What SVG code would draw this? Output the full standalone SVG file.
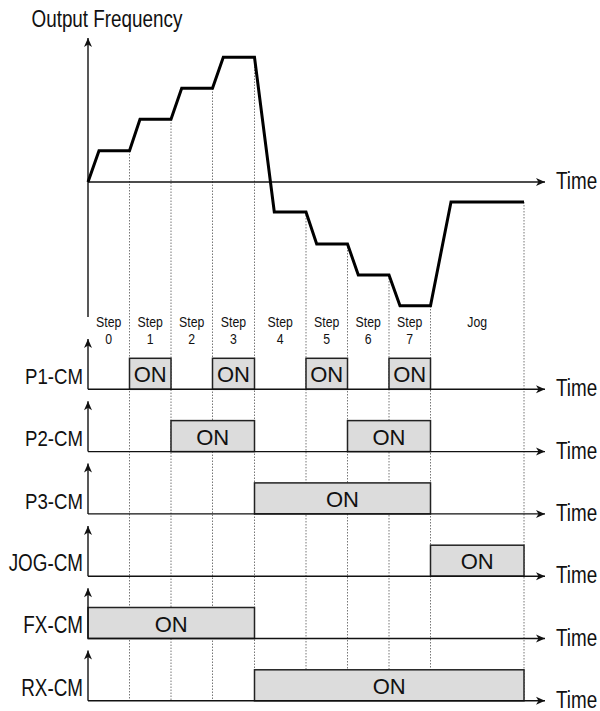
<svg xmlns="http://www.w3.org/2000/svg" width="600" height="711" viewBox="0 0 600 711">
<style>
.lbl{font-family:"Liberation Sans",Arial,sans-serif;font-size:23px;fill:#111}
.end{text-anchor:end}
.stp{font-family:"Liberation Sans",Arial,sans-serif;font-size:15px;fill:#111;text-anchor:middle}
.on{font-family:"Liberation Sans",Arial,sans-serif;font-size:22px;fill:#111;text-anchor:middle}
.ax{stroke:#111;stroke-width:1.4;fill:none}
.dot{stroke:#777;stroke-width:1;stroke-dasharray:1.5 1.5;fill:none}
.box{fill:#dcdcdc;stroke:#222;stroke-width:1.5}
.curve{stroke:#000;stroke-width:3;fill:none;stroke-linejoin:miter}
</style>
<defs>
<marker id="arr" markerUnits="userSpaceOnUse" viewBox="-10 -5 11 10" refX="0" refY="0" markerWidth="11" markerHeight="10" orient="auto">
<path d="M0,0 L-9,-4 L-6.5,0 L-9,4 Z" fill="#111"/>
</marker>
</defs>
<rect width="600" height="711" fill="#fff"/>

<g id="gridlines">
<line class="dot" x1="129.5" y1="151" x2="129.5" y2="700"/>
<line class="dot" x1="171" y1="119.5" x2="171" y2="700"/>
<line class="dot" x1="212.5" y1="88.5" x2="212.5" y2="700"/>
<line class="dot" x1="254.5" y1="57.5" x2="254.5" y2="700"/>
<line class="dot" x1="306" y1="212" x2="306" y2="700"/>
<line class="dot" x1="347.5" y1="244" x2="347.5" y2="700"/>
<line class="dot" x1="389" y1="275" x2="389" y2="700"/>
<line class="dot" x1="430.5" y1="306" x2="430.5" y2="700"/>
<line class="dot" x1="524" y1="202" x2="524" y2="700"/>
</g>

<g id="freq-chart">
<text class="lbl" transform="translate(31.5,27) scale(0.82,1)">Output Frequency</text>
<line class="ax" x1="88" y1="317" x2="88" y2="38" marker-end="url(#arr)"/>
<line class="ax" x1="88" y1="182" x2="545" y2="182" marker-end="url(#arr)"/>
<text class="lbl" transform="translate(556,189) scale(0.82,1)">Time</text>
<polyline class="curve" points="88,182 99,150.7 129.5,150.7 140,119.3 171,119.3 181.7,88.3 212.5,88.3 223.3,57.3 254.5,57.3 274.3,212 306,212 316.7,244 347.5,244 358.3,275 389,275 400,305.7 430.5,305.7 451,202 524,202"/>
</g>

<g id="step-labels">
<text class="stp" transform="translate(108.75,327) scale(0.82,1)">Step</text><text class="stp" transform="translate(108.75,344) scale(0.82,1)">0</text>
<text class="stp" transform="translate(150.25,327) scale(0.82,1)">Step</text><text class="stp" transform="translate(150.25,344) scale(0.82,1)">1</text>
<text class="stp" transform="translate(191.75,327) scale(0.82,1)">Step</text><text class="stp" transform="translate(191.75,344) scale(0.82,1)">2</text>
<text class="stp" transform="translate(233.5,327) scale(0.82,1)">Step</text><text class="stp" transform="translate(233.5,344) scale(0.82,1)">3</text>
<text class="stp" transform="translate(280.25,327) scale(0.82,1)">Step</text><text class="stp" transform="translate(280.25,344) scale(0.82,1)">4</text>
<text class="stp" transform="translate(326.75,327) scale(0.82,1)">Step</text><text class="stp" transform="translate(326.75,344) scale(0.82,1)">5</text>
<text class="stp" transform="translate(368.25,327) scale(0.82,1)">Step</text><text class="stp" transform="translate(368.25,344) scale(0.82,1)">6</text>
<text class="stp" transform="translate(409.75,327) scale(0.82,1)">Step</text><text class="stp" transform="translate(409.75,344) scale(0.82,1)">7</text>
<text class="stp" transform="translate(477.25,327) scale(0.82,1)">Jog</text>
</g>

<g id="row-p1">
<rect class="box" x="129.5" y="358.3" width="41.5" height="31"/>
<rect class="box" x="212.5" y="358.3" width="42" height="31"/>
<rect class="box" x="306" y="358.3" width="41.5" height="31"/>
<rect class="box" x="389" y="358.3" width="41.5" height="31"/>
<text class="on" x="150.25" y="382.3">ON</text>
<text class="on" x="233.5" y="382.3">ON</text>
<text class="on" x="326.75" y="382.3">ON</text>
<text class="on" x="409.75" y="382.3">ON</text>
<line class="ax" x1="88" y1="389.3" x2="88" y2="339" marker-end="url(#arr)"/>
<line class="ax" x1="88" y1="389.3" x2="545" y2="389.3" marker-end="url(#arr)"/>
<text class="lbl end" transform="translate(83,384) scale(0.81,1)">P1-CM</text>
<text class="lbl" transform="translate(556,396.3) scale(0.82,1)">Time</text>
</g>

<g id="row-p2">
<rect class="box" x="171" y="420.6" width="83.5" height="31"/>
<rect class="box" x="347.5" y="420.6" width="83" height="31"/>
<text class="on" x="212.75" y="444.6">ON</text>
<text class="on" x="389" y="444.6">ON</text>
<line class="ax" x1="88" y1="451.6" x2="88" y2="401.3" marker-end="url(#arr)"/>
<line class="ax" x1="88" y1="451.6" x2="545" y2="451.6" marker-end="url(#arr)"/>
<text class="lbl end" transform="translate(83,446.3) scale(0.81,1)">P2-CM</text>
<text class="lbl" transform="translate(556,458.6) scale(0.82,1)">Time</text>
</g>

<g id="row-p3">
<rect class="box" x="254.5" y="482.9" width="176" height="31"/>
<text class="on" x="342.5" y="506.9">ON</text>
<line class="ax" x1="88" y1="513.9" x2="88" y2="463.6" marker-end="url(#arr)"/>
<line class="ax" x1="88" y1="513.9" x2="545" y2="513.9" marker-end="url(#arr)"/>
<text class="lbl end" transform="translate(83,508.6) scale(0.81,1)">P3-CM</text>
<text class="lbl" transform="translate(556,520.9) scale(0.82,1)">Time</text>
</g>

<g id="row-jog">
<rect class="box" x="430.5" y="545.2" width="93.5" height="31"/>
<text class="on" x="477.25" y="569.2">ON</text>
<line class="ax" x1="88" y1="576.2" x2="88" y2="525.9" marker-end="url(#arr)"/>
<line class="ax" x1="88" y1="576.2" x2="545" y2="576.2" marker-end="url(#arr)"/>
<text class="lbl end" transform="translate(83,570.9) scale(0.82,1)">JOG-CM</text>
<text class="lbl" transform="translate(556,583.2) scale(0.82,1)">Time</text>
</g>

<g id="row-fx">
<rect class="box" x="88" y="607.5" width="166.5" height="31"/>
<text class="on" x="171.25" y="631.5">ON</text>
<line class="ax" x1="88" y1="638.5" x2="88" y2="588.2" marker-end="url(#arr)"/>
<line class="ax" x1="88" y1="638.5" x2="545" y2="638.5" marker-end="url(#arr)"/>
<text class="lbl end" transform="translate(83,633.2) scale(0.82,1)">FX-CM</text>
<text class="lbl" transform="translate(556,645.5) scale(0.82,1)">Time</text>
</g>

<g id="row-rx">
<rect class="box" x="254.5" y="669.8" width="269.5" height="31"/>
<text class="on" x="389.25" y="693.8">ON</text>
<line class="ax" x1="88" y1="700.8" x2="88" y2="650.5" marker-end="url(#arr)"/>
<line class="ax" x1="88" y1="700.8" x2="545" y2="700.8" marker-end="url(#arr)"/>
<text class="lbl end" transform="translate(83,695.5) scale(0.82,1)">RX-CM</text>
<text class="lbl" transform="translate(556,707.8) scale(0.82,1)">Time</text>
</g>
</svg>
